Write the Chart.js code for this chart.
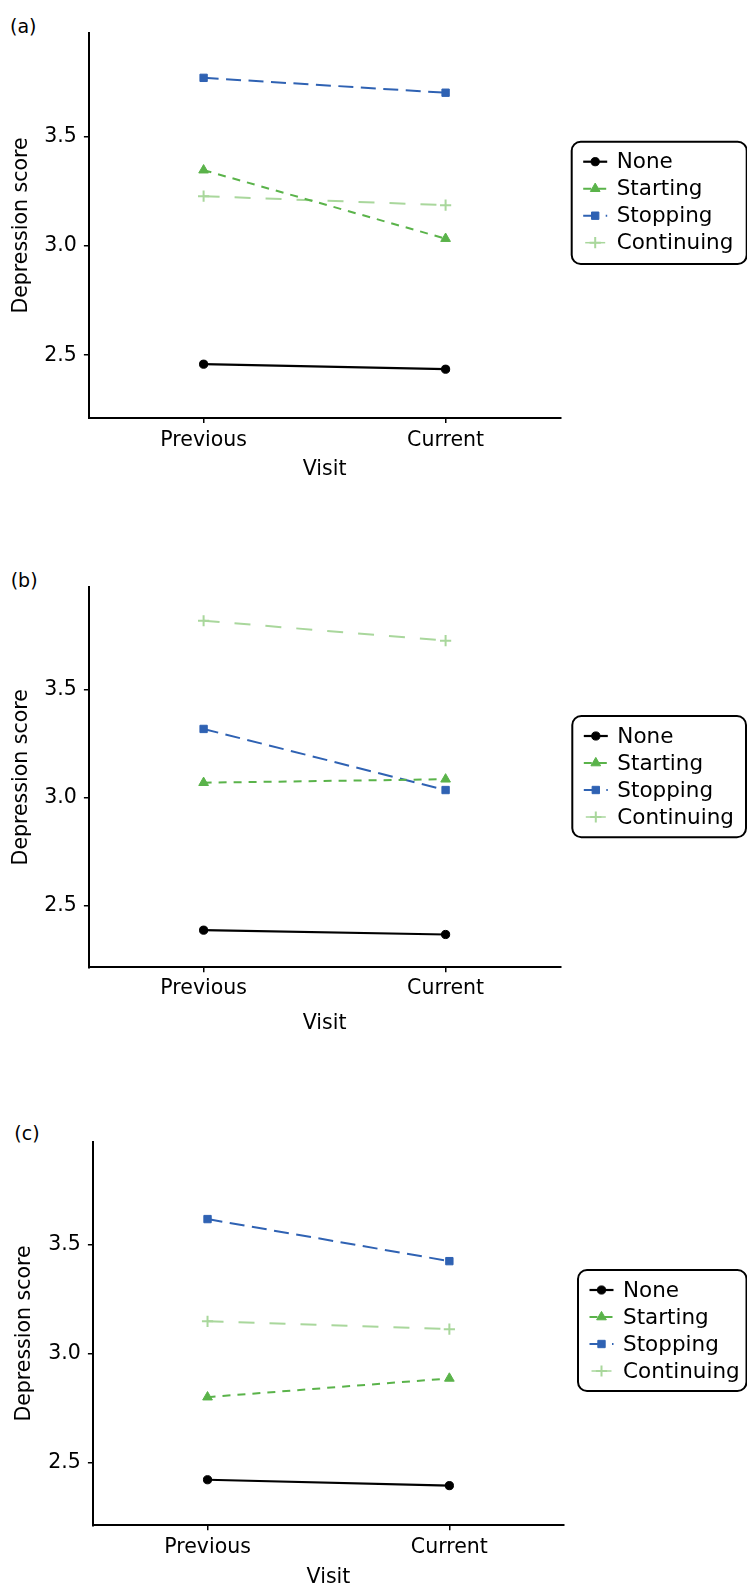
<!DOCTYPE html>
<html>
<head>
<meta charset="utf-8">
<script src="https://cdn.jsdelivr.net/npm/chart.js@4.4.1/dist/chart.umd.min.js"></script>
<style>
  html, body { margin: 0; padding: 0; background: #fff; }
  body { width: 747px; height: 1586px; position: relative; overflow: hidden; font-family: "DejaVu Sans", sans-serif; }
  .pane { position: absolute; left: 0; }
  .plabel { position: absolute; font-size: 19px; line-height: 19px; color: #000; font-family: "DejaVu Sans", sans-serif; }
</style>
</head>
<body>
<script>
// ---------- data ----------
const visits = ['Previous', 'Current'];
const groups = ['None', 'Starting', 'Stopping', 'Continuing'];
const yTickValues = [2.5, 3.0, 3.5];
const panelLabels = ['(a)', '(b)', '(c)'];
const yAxisTitle = 'Depression score';
const xAxisTitle = 'Visit';

const aNone = [2.459, 2.436];
const aStarting = [3.346, 3.033];
const aStopping = [3.768, 3.700];
const aContinuing = [3.227, 3.186];

const bNone = [2.385, 2.365];
const bStarting = [3.068, 3.084];
const bStopping = [3.317, 3.034];
const bContinuing = [3.818, 3.726];

const cNone = [2.422, 2.395];
const cStarting = [2.801, 2.887];
const cStopping = [3.618, 3.425];
const cContinuing = [3.149, 3.113];

const panelSeries = [
  [aNone, aStarting, aStopping, aContinuing],
  [bNone, bStarting, bStopping, bContinuing],
  [cNone, cStarting, cStopping, cContinuing]
];

// ---------- styles / layout ----------
const yMin = 2.213, yMax = 3.973;
const xMin = 0.526, xMax = 2.474;
const FONT = '"DejaVu Sans", sans-serif';
const AXIS_FONT_SIZE = 20.5;
const LEGEND_FONT_SIZE = 21.5;

const groupStyles = [
  { color: '#000000', dash: [],        pointStyle: 'circle',   radius: 4.1, lw: 2.2 },
  { color: '#5ab34a', dash: [8, 7],    pointStyle: 'triangle', radius: 5.6, lw: 2 },
  { color: '#2f62b3', dash: [15, 7.5], pointStyle: 'rect',     radius: 5.2, lw: 2 },
  { color: '#a9d79c', dash: [16, 15],  pointStyle: 'cross',    radius: 5.6, lw: 2 }
];

const layouts = [
  { top: 0,    h: 500, left: 88.9, right: 560.3, cTop: 33,   cBottom: 418,   yTitlePad: 9.1, xTitlePadB: 17.7, tickPadX: 5.2,
    legend: { x: 571.7, y: 141.7, w: 175,   h: 122.3 }, label: { x: 10,   y: 26.5 } },
  { top: 540,  h: 510, left: 88.9, right: 560.3, cTop: 47.3, cBottom: 427.3, yTitlePad: 9.1, xTitlePadB: 13.9, tickPadX: 4.4,
    legend: { x: 572.3, y: 176,   w: 173.7, h: 121.3 }, label: { x: 10.7, y: 580.5 } },
  { top: 1090, h: 510, left: 92.9, right: 564,   cTop: 51.7, cBottom: 435.3, yTitlePad: 12.7, xTitlePadB: 10.2, tickPadX: 4.9,
    legend: { x: 578,   y: 180,   w: 168.5, h: 121 },   label: { x: 14.3, y: 1134 } }
];

function drawMarker(ctx, style, x, y, r, color) {
  ctx.save();
  ctx.setLineDash([]);
  ctx.fillStyle = color;
  ctx.strokeStyle = color;
  ctx.lineWidth = 1;
  ctx.beginPath();
  if (style === 'circle') {
    ctx.arc(x, y, r, 0, Math.PI * 2);
    ctx.fill(); ctx.stroke();
  } else if (style === 'triangle') {
    let rad = 0;
    ctx.moveTo(x + Math.sin(rad) * r, y - Math.cos(rad) * r);
    rad += Math.PI * 2 / 3;
    ctx.lineTo(x + Math.sin(rad) * r, y - Math.cos(rad) * r);
    rad += Math.PI * 2 / 3;
    ctx.lineTo(x + Math.sin(rad) * r, y - Math.cos(rad) * r);
    ctx.closePath();
    ctx.fill(); ctx.stroke();
  } else if (style === 'rect') {
    const s = r * Math.SQRT1_2;
    ctx.rect(x - s, y - s, 2 * s, 2 * s);
    ctx.fill(); ctx.stroke();
  } else if (style === 'cross') {
    ctx.lineWidth = 2;
    ctx.moveTo(x, y - r); ctx.lineTo(x, y + r);
    ctx.moveTo(x - r, y); ctx.lineTo(x + r, y);
    ctx.stroke();
  }
  ctx.restore();
}

const boxLegendPlugin = {
  id: 'boxLegend',
  afterDraw(chart, args, opts) {
    const ctx = chart.ctx;
    const L = opts.box;
    if (!L) return;
    ctx.save();
    const rr = 9;
    ctx.beginPath();
    ctx.lineWidth = 2;
    ctx.strokeStyle = '#000';
    ctx.moveTo(L.x + rr, L.y);
    ctx.lineTo(L.x + L.w - rr, L.y);
    ctx.arcTo(L.x + L.w, L.y, L.x + L.w, L.y + rr, rr);
    ctx.lineTo(L.x + L.w, L.y + L.h - rr);
    ctx.arcTo(L.x + L.w, L.y + L.h, L.x + L.w - rr, L.y + L.h, rr);
    ctx.lineTo(L.x + rr, L.y + L.h);
    ctx.arcTo(L.x, L.y + L.h, L.x, L.y + L.h - rr, rr);
    ctx.lineTo(L.x, L.y + rr);
    ctx.arcTo(L.x, L.y, L.x + rr, L.y, rr);
    ctx.closePath();
    ctx.fillStyle = '#fff';
    ctx.fill();
    ctx.stroke();
    chart.data.datasets.forEach((ds, i) => {
      const st = groupStyles[i];
      const ry = L.y + 20 + i * 27;
      const x0 = L.x + 11.5, x1 = L.x + 35.5;
      if (st.pointStyle !== 'cross') {
        ctx.beginPath();
        ctx.setLineDash(st.dash);
        ctx.lineWidth = st.lw;
        ctx.strokeStyle = st.color;
        ctx.moveTo(x0, ry); ctx.lineTo(x1, ry);
        ctx.stroke();
      } else {
        ctx.beginPath();
        ctx.setLineDash([]);
        ctx.lineWidth = 1.5;
        ctx.strokeStyle = st.color;
        ctx.moveTo(x0 + 2, ry); ctx.lineTo(x1 - 2, ry);
        ctx.stroke();
      }
      ctx.setLineDash([]);
      drawMarker(ctx, st.pointStyle, (x0 + x1) / 2, ry, st.radius, st.color);
      ctx.fillStyle = '#000';
      ctx.font = LEGEND_FONT_SIZE + 'px ' + FONT;
      ctx.textBaseline = 'middle';
      ctx.textAlign = 'left';
      ctx.fillText(ds.label, L.x + 45, ry + 1);
    });
    ctx.restore();
  }
};

layouts.forEach((lay, p) => {
  const lbl = document.createElement('div');
  lbl.className = 'plabel';
  lbl.textContent = panelLabels[p];
  lbl.style.left = lay.label.x + 'px';
  lbl.style.top = (lay.label.y - 10) + 'px';
  document.body.appendChild(lbl);

  const wrap = document.createElement('div');
  wrap.className = 'pane';
  wrap.style.top = lay.top + 'px';
  wrap.style.width = '747px';
  wrap.style.height = lay.h + 'px';
  const cv = document.createElement('canvas');
  cv.width = 747; cv.height = lay.h;
  cv.style.width = '747px'; cv.style.height = lay.h + 'px';
  wrap.appendChild(cv);
  document.body.appendChild(wrap);

  const datasets = groups.map((g, i) => {
    const st = groupStyles[i];
    return {
      label: g,
      data: panelSeries[p][i].map((v, k) => ({ x: k + 1, y: v })),
      borderColor: st.color,
      backgroundColor: st.color,
      borderWidth: st.lw,
      borderDash: st.dash,
      pointStyle: st.pointStyle,
      pointRadius: st.radius,
      pointBorderWidth: st.pointStyle === 'cross' ? 2 : 1,
      pointBackgroundColor: st.color,
      pointBorderColor: st.color,
      tension: 0,
      fill: false,
      clip: false
    };
  });

  new Chart(cv, {
    type: 'line',
    data: { datasets },
    plugins: [boxLegendPlugin],
    options: {
      responsive: false,
      animation: false,
      devicePixelRatio: 1,
      layout: { padding: { left: 0, top: lay.cTop, right: 747 - lay.right, bottom: 0 } },
      plugins: {
        legend: { display: false },
        tooltip: { enabled: false },
        boxLegend: { box: lay.legend }
      },
      scales: {
        x: {
          type: 'linear',
          position: 'bottom',
          min: xMin, max: xMax,
          afterBuildTicks: (s) => { s.ticks = visits.map((v, i) => ({ value: i + 1 })); },
          afterFit: (s) => { s.height = lay.h - lay.cBottom; },
          ticks: {
            callback: (v) => visits[Math.round(v) - 1],
            color: '#000',
            font: { family: FONT, size: AXIS_FONT_SIZE },
            padding: lay.tickPadX,
            maxRotation: 0,
            autoSkip: false
          },
          grid: { drawOnChartArea: false, drawTicks: true, tickLength: 5, color: '#000', lineWidth: 1.5 },
          border: { display: true, color: '#000', width: 2 },
          title: { display: true, text: xAxisTitle, color: '#000', font: { family: FONT, size: AXIS_FONT_SIZE },
                   padding: { top: 0, bottom: lay.xTitlePadB } }
        },
        y: {
          type: 'linear',
          position: 'left',
          min: yMin, max: yMax,
          afterBuildTicks: (s) => { s.ticks = yTickValues.map(v => ({ value: v })); },
          afterFit: (s) => { s.width = lay.left; },
          ticks: {
            callback: (v) => Number(v).toFixed(1),
            color: '#000',
            font: { family: FONT, size: AXIS_FONT_SIZE },
            padding: 7
          },
          grid: { drawOnChartArea: false, drawTicks: true, tickLength: 5, color: '#000', lineWidth: 1.5 },
          border: { display: true, color: '#000', width: 2 },
          title: { display: true, text: yAxisTitle, color: '#000', font: { family: FONT, size: AXIS_FONT_SIZE },
                   padding: { top: lay.yTitlePad, bottom: 0 } }
        }
      }
    }
  });
});
</script>
</body>
</html>
